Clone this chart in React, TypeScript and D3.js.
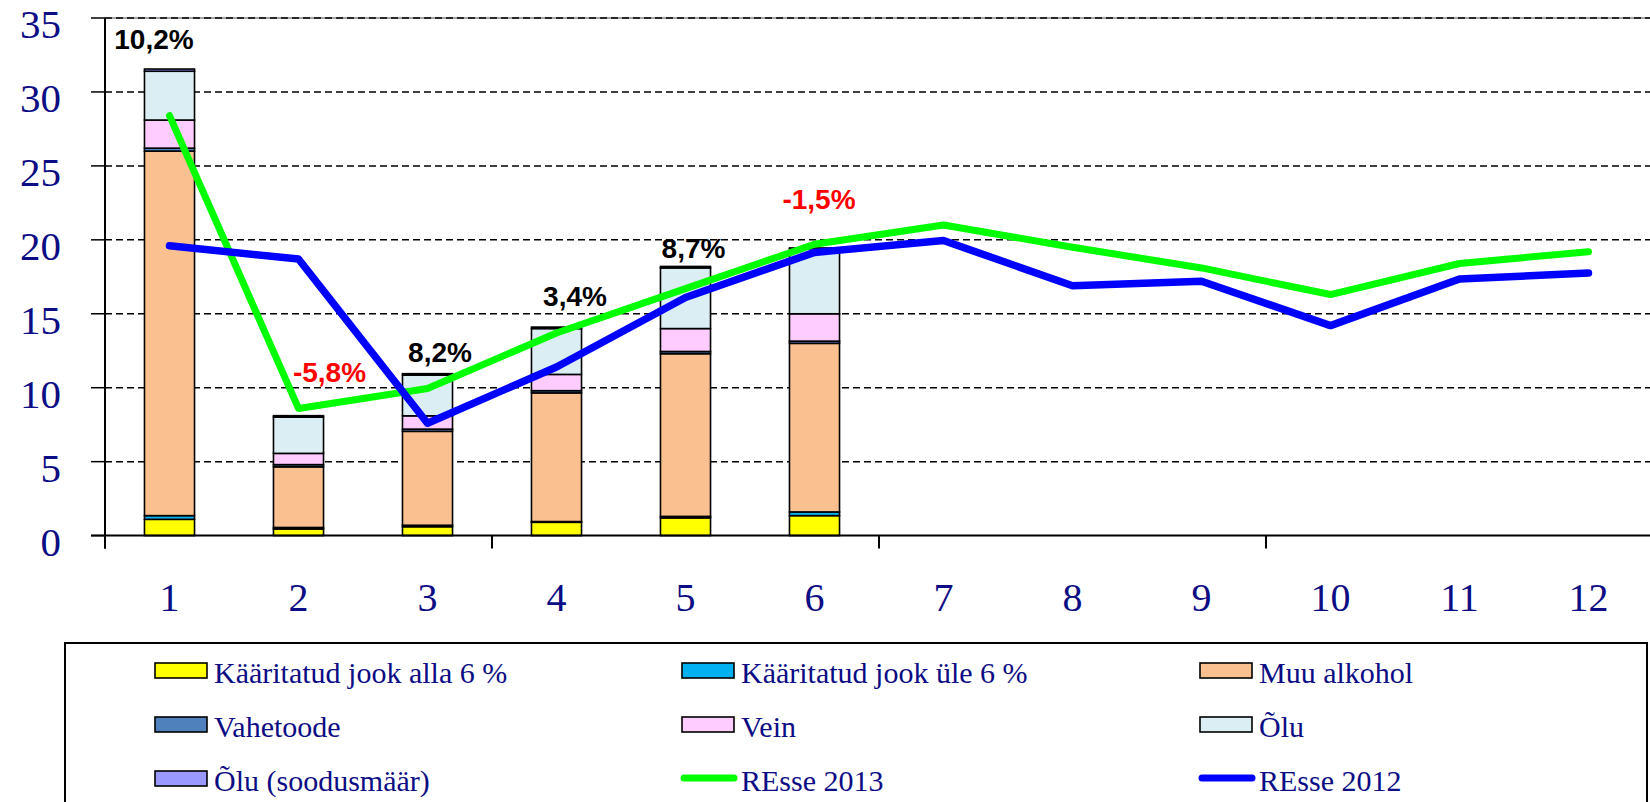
import React from "react";
import * as d3 from "d3";

const months = ["1", "2", "3", "4", "5", "6", "7", "8", "9", "10", "11", "12"];
const yTicks = [0, 5, 10, 15, 20, 25, 30, 35];

// stacked series (months 1-6)
const kaaritatudAlla6 = [1.1, 0.45, 0.6, 0.9, 1.2, 1.35];
const kaaritatudUle6 = [0.25, 0.1, 0.1, 0.05, 0.1, 0.25];
const muuAlkohol = [24.65, 4.1, 6.35, 8.7, 11.0, 11.4];
const vahetoode = [0.2, 0.15, 0.15, 0.15, 0.15, 0.15];
const vein = [1.9, 0.76, 0.9, 1.1, 1.55, 1.85];
const olu = [3.3, 2.45, 2.75, 3.1, 4.1, 4.4];
const oluSoodus = [0.15, 0.1, 0.1, 0.1, 0.1, 0.05];

// lines
const resse2013 = [28.4, 8.6, 9.95, 13.7, 16.7, 19.7, 21.0, 19.5, 18.1, 16.3, 18.4, 19.2];
const resse2012 = [19.6, 18.7, 7.6, 11.4, 16.1, 19.15, 19.95, 16.9, 17.2, 14.2, 17.35, 17.75];

// change labels
const pctLabels = ["10,2%", "-5,8%", "8,2%", "3,4%", "8,7%", "-1,5%"];
const pctLabelY = [32.9, 10.4, 11.75, 15.55, 18.75, 22.1];
const pctLabelDx = [-15.5, 31, 12.5, 18.5, 8, 4.5];

const seriesNames = [
  "Kääritatud jook alla 6 %",
  "Kääritatud jook üle 6 %",
  "Muu alkohol",
  "Vahetoode",
  "Vein",
  "Õlu",
  "Õlu (soodusmäär)",
];
const seriesColors = ["#FFFF00", "#00B0F0", "#FAC090", "#4F81BD", "#FFCCFF", "#DAEEF3", "#9999FF"];
const seriesValues = [kaaritatudAlla6, kaaritatudUle6, muuAlkohol, vahetoode, vein, olu, oluSoodus];

const legendItems = [
  { name: "Kääritatud jook alla 6 %", color: "#FFFF00", kind: "box" },
  { name: "Kääritatud jook üle 6 %", color: "#00B0F0", kind: "box" },
  { name: "Muu alkohol", color: "#FAC090", kind: "box" },
  { name: "Vahetoode", color: "#4F81BD", kind: "box" },
  { name: "Vein", color: "#FFCCFF", kind: "box" },
  { name: "Õlu", color: "#DAEEF3", kind: "box" },
  { name: "Õlu (soodusmäär)", color: "#9999FF", kind: "box" },
  { name: "REsse 2013", color: "#00FF00", kind: "line" },
  { name: "REsse 2012", color: "#0000FF", kind: "line" },
];

const W = 1650;
const H = 802;
const NAVY = "#0c0c84";
const SERIF = "'Liberation Serif', 'Times New Roman', serif";
const AXISFONT = "'Liberation Serif', serif";
const SANS = "'Liberation Sans', Arial, sans-serif";

export default function App() {
  const left = 105;
  const step = 129;
  const x = d3
    .scaleBand<string>()
    .domain(months)
    .range([left, left + step * months.length])
    .paddingInner(0.612)
    .paddingOuter(0.306);
  const y = d3.scaleLinear().domain([0, 35]).range([535.6, 18]);
  const cx = (m: string) => (x(m) as number) + x.bandwidth() / 2;

  const rows = months.slice(0, 6).map((m, i) => {
    const r: any = { month: m };
    seriesNames.forEach((n, k) => (r[n] = seriesValues[k][i]));
    return r;
  });
  const stack = d3.stack<any>().keys(seriesNames)(rows);

  const line = d3
    .line<number>()
    .x((_, i) => cx(months[i]))
    .y((d) => y(d));

  const quarterTicks = [0, 3, 6, 9].map((i) => x(months[i])! - (x.step() * 0.612) / 2);
  const axisBottom = y(0);

  const legCols = [155, 682, 1200];
  const legRows = [683, 737, 791];

  return (
    <svg
      width={W}
      height={H}
      style={{ position: "absolute", left: 0, top: 0, background: "#fff" }}
    >
      {/* grid lines */}
      {yTicks.map((t) => (
        <g key={t}>
          {t === 35 && (
            <line x1={left} x2={W} y1={y(t)} y2={y(t)} stroke="#888" strokeWidth={1.5} />
          )}
          {t > 0 && (
            <line
              x1={left}
              x2={W}
              y1={y(t)}
              y2={y(t)}
              stroke="#000"
              strokeWidth={1.5}
              strokeDasharray="7,4"
            />
          )}
          <line x1={91} x2={left} y1={y(t)} y2={y(t)} stroke="#000" strokeWidth={1.5} />
          <text
            x={61}
            y={y(t) + 20}
            textAnchor="end"
            fontFamily={AXISFONT}
            fontSize={41}
            fill={NAVY}
          >
            {t}
          </text>
        </g>
      ))}

      {/* bars */}
      {stack.map((s, k) => (
        <g key={s.key} fill={seriesColors[k]}>
          {s.map((d) => (
            <rect
              key={d.data.month}
              x={x(d.data.month)}
              y={y(d[1])}
              width={x.bandwidth()}
              height={Math.max(0, y(d[0]) - y(d[1]))}
              stroke="#000"
              strokeWidth={1.6}
            />
          ))}
        </g>
      ))}

      {/* axes */}
      <line x1={left} x2={left} y1={y(35)} y2={axisBottom + 13} stroke="#000" strokeWidth={2} />
      <line x1={91} x2={W} y1={axisBottom} y2={axisBottom} stroke="#000" strokeWidth={2} />
      {quarterTicks.map((q, i) => (
        <line key={i} x1={q} x2={q} y1={axisBottom} y2={axisBottom + 13} stroke="#000" strokeWidth={2} />
      ))}
      {months.map((m) => (
        <text
          key={m}
          x={cx(m)}
          y={611}
          textAnchor="middle"
          fontFamily={AXISFONT}
          fontSize={40}
          fill={NAVY}
        >
          {m}
        </text>
      ))}

      {/* lines */}
      <path d={line(resse2013) || ""} fill="none" stroke="#00FF00" strokeWidth={7} strokeLinejoin="round" strokeLinecap="round" />
      <path d={line(resse2012) || ""} fill="none" stroke="#0000FF" strokeWidth={7.5} strokeLinejoin="round" strokeLinecap="round" />

      {/* percentage labels */}
      {pctLabels.map((l, i) => (
        <text
          key={i}
          x={cx(months[i]) + pctLabelDx[i]}
          y={y(pctLabelY[i])}
          textAnchor="middle"
          fontFamily={SANS}
          fontWeight="bold"
          fontSize={28}
          fill={l.startsWith("-") ? "#FF0000" : "#000"}
        >
          {l}
        </text>
      ))}

      {/* legend */}
      <rect x={65} y={643} width={1582} height={200} fill="#fff" stroke="#000" strokeWidth={2} />
      {legendItems.map((it, i) => {
        const lx = legCols[i % 3];
        const ly = legRows[Math.floor(i / 3)];
        return (
          <g key={it.name}>
            {it.kind === "box" ? (
              <rect x={lx} y={ly - 20} width={52} height={15} fill={it.color} stroke="#000" strokeWidth={1.6} />
            ) : (
              <line x1={lx + 2} x2={lx + 52} y1={ly - 13} y2={ly - 13} stroke={it.color} strokeWidth={7} strokeLinecap="round" />
            )}
            <text x={lx + 59} y={ly} fontFamily={SERIF} fontSize={30} fill={NAVY}>
              {it.name}
            </text>
          </g>
        );
      })}
    </svg>
  );
}
